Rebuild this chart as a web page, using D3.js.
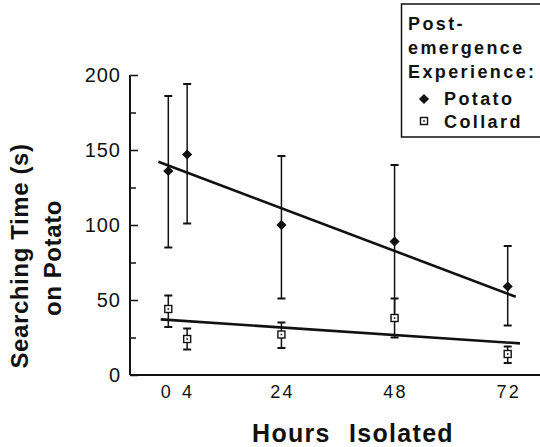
<!DOCTYPE html>
<html>
<head>
<meta charset="utf-8">
<script src="https://cdn.jsdelivr.net/npm/d3@7"></script>
<style>
  body { margin: 0; background: #fff; }
  svg { display: block; font-family: "Liberation Sans", Arial, sans-serif; }
</style>
</head>
<body>
<div id="chart"></div>
<script>
// hours isolated and tick labels
const hours = [0, 4, 24, 48, 72];
const yTicks = [0, 50, 100, 150, 200];
const yMinorTicks = [25, 75, 125, 175];

// searching time (s), with error bar ends
const potatoMean = [136, 147, 100, 89, 59];
const potatoHigh = [186, 194, 146, 140, 86];
const potatoLow = [85, 101, 51, 38, 33];

const collardMean = [44, 24, 27, 38, 14];
const collardHigh = [53, 31, 35, 51, 19];
const collardLow = [32, 17, 18, 25, 8];

// regression line end points (hour, value)
const potatoFitH = [-2.1, 73.7];
const potatoFitV = [142.2, 52.2];
const collardFitH = [-1.6, 74.6];
const collardFitV = [37.1, 21.1];

const legendTitle = ["Post-", "emergence", "Experience:"];
const legendNames = ["Potato", "Collard"];

const width = 540, height = 447;

let svg = d3.select("#chart")
    .append("svg")
    .attr("width", width)
    .attr("height", height);

let x = d3.scaleLinear().domain([0, 72]).range([168.3, 507.7]);
let y = d3.scaleLinear().domain([0, 200]).range([375, 75]);

// y axis, ticks pointing inward
let yAxis = svg.append("g").attr("transform", "translate(130,0)");
yAxis.call(d3.axisRight(y).tickValues(yTicks).tickSize(8).tickFormat(""));
yAxis.append("g")
    .call(d3.axisRight(y).tickValues(yMinorTicks).tickSize(6).tickFormat(""));
yAxis.selectAll("path.domain").remove();
yAxis.selectAll("line").attr("stroke", "#111").attr("stroke-width", 1.5);
svg.append("line")
    .attr("x1", 130).attr("x2", 130)
    .attr("y1", y(200)).attr("y2", y(0))
    .attr("stroke", "#111").attr("stroke-width", 2);

svg.selectAll("text.ylab")
    .data(yTicks)
    .enter()
    .append("text")
    .attr("class", "ylab")
    .attr("x", 121)
    .attr("y", d => y(d) + 7)
    .attr("text-anchor", "end")
    .attr("font-size", 20)
    .attr("letter-spacing", 1)
    .attr("fill", "#111")
    .text(d => d);

// x axis line across to the edge
svg.append("line")
    .attr("x1", 130).attr("x2", width)
    .attr("y1", 375).attr("y2", 375)
    .attr("stroke", "#111").attr("stroke-width", 2.2);

svg.selectAll("text.xlab")
    .data(hours)
    .enter()
    .append("text")
    .attr("class", "xlab")
    .attr("x", d => x(d) + (d === 0 ? -2.5 : 0) + 1)
    .attr("y", 398)
    .attr("text-anchor", "middle")
    .attr("font-size", 18)
    .attr("letter-spacing", 2.2)
    .attr("fill", "#111")
    .text(d => d);

// axis titles
let yTitle = svg.append("g")
    .attr("font-weight", "bold")
    .attr("font-size", 24)
    .attr("letter-spacing", 0.6)
    .attr("fill", "#111");
yTitle.append("text")
    .attr("transform", "translate(28,256) rotate(-90)")
    .attr("text-anchor", "middle")
    .text("Searching Time (s)");
yTitle.append("text")
    .attr("transform", "translate(61,258) rotate(-90)")
    .attr("text-anchor", "middle")
    .text("on Potato");

svg.append("text")
    .attr("x", 353)
    .attr("y", 442)
    .attr("text-anchor", "middle")
    .attr("font-weight", "bold")
    .attr("font-size", 25)
    .attr("letter-spacing", 1.3)
    .attr("word-spacing", 10)
    .attr("fill", "#111")
    .text("Hours Isolated");

// regression lines
let line = d3.line().x(d => x(d[0])).y(d => y(d[1]));
svg.append("path")
    .attr("d", line(d3.zip(potatoFitH, potatoFitV)))
    .attr("stroke", "#111").attr("stroke-width", 2.6).attr("fill", "none");
svg.append("path")
    .attr("d", line(d3.zip(collardFitH, collardFitV)))
    .attr("stroke", "#111").attr("stroke-width", 2.6).attr("fill", "none");

// error bars
function errorBars(mean, high, low, cls) {
    let g = svg.append("g").attr("stroke", "#111").attr("stroke-width", 1.5);
    let rows = hours.map((h, i) => ({ h: h, hi: high[i], lo: low[i] }));
    g.selectAll("line.v" + cls).data(rows).enter().append("line")
        .attr("x1", d => x(d.h)).attr("x2", d => x(d.h))
        .attr("y1", d => y(d.hi)).attr("y2", d => y(d.lo));
    g.selectAll("line.t" + cls).data(rows).enter().append("line")
        .attr("x1", d => x(d.h) - 4).attr("x2", d => x(d.h) + 4)
        .attr("y1", d => y(d.hi)).attr("y2", d => y(d.hi))
        .attr("stroke-width", 2);
    g.selectAll("line.b" + cls).data(rows).enter().append("line")
        .attr("x1", d => x(d.h) - 4).attr("x2", d => x(d.h) + 4)
        .attr("y1", d => y(d.lo)).attr("y2", d => y(d.lo))
        .attr("stroke-width", 2);
}
errorBars(potatoMean, potatoHigh, potatoLow, "p");
errorBars(collardMean, collardHigh, collardLow, "c");

// markers
function diamond(g) {
    g.append("rect")
        .attr("x", -3.6).attr("y", -3.6)
        .attr("width", 7.2).attr("height", 7.2)
        .attr("transform", "rotate(45)")
        .attr("fill", "#111");
}
function openSquare(g) {
    g.append("rect")
        .attr("x", -3.5).attr("y", -3.5)
        .attr("width", 7).attr("height", 7)
        .attr("fill", "#fff").attr("stroke", "#111").attr("stroke-width", 1.4);
    g.append("rect")
        .attr("x", -0.8).attr("y", -0.8)
        .attr("width", 1.6).attr("height", 1.6)
        .attr("fill", "#111");
}

svg.selectAll("g.potato")
    .data(hours)
    .enter()
    .append("g")
    .attr("class", "potato")
    .attr("transform", (d, i) => "translate(" + x(d) + "," + y(potatoMean[i]) + ")")
    .each(function () { diamond(d3.select(this)); });

svg.selectAll("g.collard")
    .data(hours)
    .enter()
    .append("g")
    .attr("class", "collard")
    .attr("transform", (d, i) => "translate(" + x(d) + "," + y(collardMean[i]) + ")")
    .each(function () { openSquare(d3.select(this)); });

// legend box
let legend = svg.append("g");
legend.append("rect")
    .attr("x", 401.5).attr("y", 4)
    .attr("width", 160).attr("height", 133)
    .attr("fill", "#fff").attr("stroke", "#111").attr("stroke-width", 1.5);

let lg = legend.append("g")
    .attr("font-weight", "bold")
    .attr("font-size", 18)
    .attr("letter-spacing", 2.4)
    .attr("fill", "#111");
lg.selectAll("text.title")
    .data(legendTitle)
    .enter()
    .append("text")
    .attr("x", 408)
    .attr("y", (d, i) => [30, 53.5, 77.5][i])
    .text(d => d);
lg.selectAll("text.name")
    .data(legendNames)
    .enter()
    .append("text")
    .attr("x", 444)
    .attr("y", (d, i) => 105 + i * 23)
    .text(d => d);

diamond(legend.append("g").attr("transform", "translate(424,99)"));
openSquare(legend.append("g").attr("transform", "translate(424,121)"));
</script>
</body>
</html>
